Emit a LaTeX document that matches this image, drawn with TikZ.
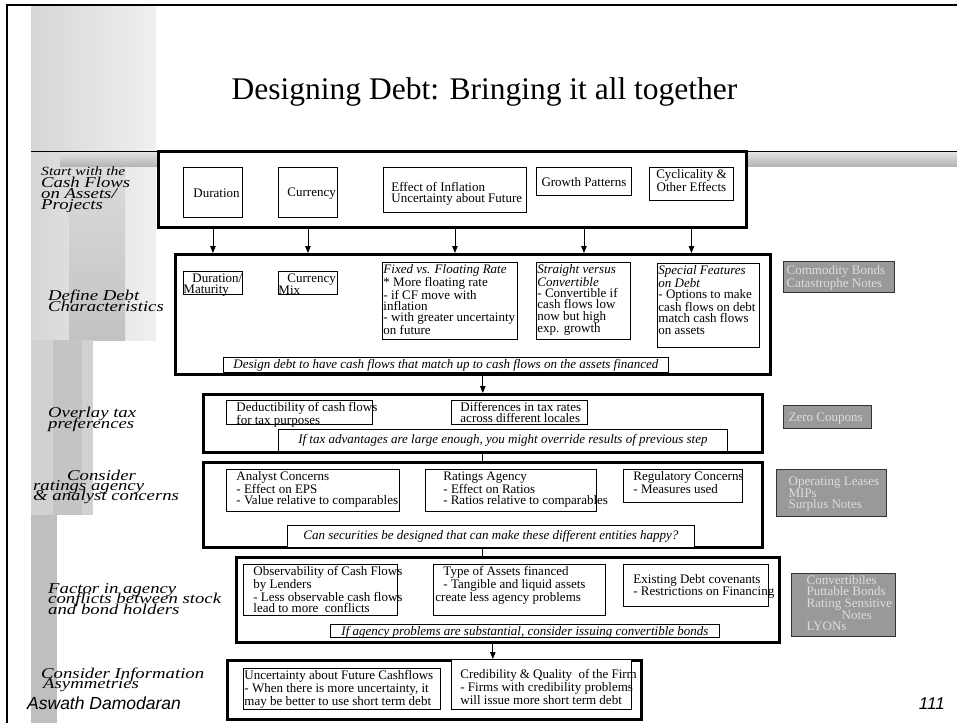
\documentclass[tikz,border=0pt]{standalone}
\usepackage{fontspec}
\setmainfont{Liberation Serif}
\newfontfamily\stepfont[FakeStretch=1.25]{Liberation Serif}
\newfontfamily\footfont{Liberation Sans}
\usetikzlibrary{arrows.meta,positioning}
\definecolor{altfill}{HTML}{999999}
\definecolor{alttext}{HTML}{DDDDDD}
\definecolor{altline}{HTML}{333333}
% fixed size text block inside a box
\newcommand{\cellbox}[4][t]{\begin{minipage}[c][#3][#1]{#2}\vspace*{2pt}\raggedright\rightskip=0pt plus 1fil minus 60pt #4\end{minipage}}
\tikzset{
  rowframe/.style={draw, line width=2.6pt, fill=white, inner sep=0pt, anchor=north west},
  cell/.style={draw, line width=0.9pt, fill=white, inner sep=0pt, anchor=north west,
    font={\lineskiplimit=-100pt\fontsize{13}{11.3}\selectfont}},
  note/.style={draw, line width=0.9pt, fill=white, inner sep=0pt, anchor=north west,
    font={\fontsize{13}{12}\selectfont\itshape}},
  alt/.style={draw=altline, line width=1.2pt, fill=altfill, text=alttext, inner sep=0pt, anchor=north west,
    font={\lineskiplimit=-100pt\fontsize{13}{11.3}\selectfont}},
  steplabel/.style={anchor=north west, inner sep=0pt, align=left,
    font={\lineskiplimit=-100pt\stepfont\itshape\fontsize{15}{#1}\selectfont}},
  steplabel/.default=11,
  flow/.style={line width=0.9pt, -{Triangle[length=7pt,width=5.5pt]}},
  link/.style={line width=0.9pt}
}
\begin{document}
\begin{tikzpicture}[x=1pt,y=-1pt]
  \useasboundingbox (0,0) rectangle (957,723);
  % slide decoration
  \shade[left color=gray!32, right color=gray!12] (31,6) rectangle (156,340);
  \shade[top color=gray!28, bottom color=gray!48] (69,167) rectangle (125,340);
  \fill[gray!36] (31,340) rectangle (93,515);
  \fill[gray!46] (53,340) rectangle (82,515);
  \fill[gray!50] (31,515) rectangle (57,723);
  \shade[top color=gray!22, bottom color=gray!58] (60,152) rectangle (957,166);
  \draw[line width=1pt] (31,151.5) -- (957,151.5);
  \draw[line width=2.2pt] (7,723) -- (7,5) -- (957,5);

  \node[font=\fontsize{31.5}{34}\selectfont, anchor=base] (title) at (484.5,99) {Designing Debt: Bringing it all together};

  %rows
  \node[rowframe, minimum width=588pt, minimum height=76pt] (row1) at (157,150) {};
  \node[rowframe, minimum width=595pt, minimum height=120pt] (row2) at (174,253) {};
  \node[rowframe, minimum width=559pt, minimum height=58pt] (row3) at (202,393) {};
  \node[rowframe, minimum width=559pt, minimum height=85pt] (row4) at (202,461) {};
  \node[rowframe, minimum width=543pt, minimum height=85pt] (row5) at (235,556) {};
  \node[rowframe, minimum width=414pt, minimum height=59pt] (row6) at (226,659) {};

  %cash flows on assets
  \node[cell] (dur) at (183,167) {\cellbox[c]{59pt}{50pt}{\hspace*{10pt}Duration}};
  \node[cell] (cur) at (278,167) {\cellbox[c]{59pt}{50pt}{\hspace*{9pt}Currency}};
  \node[cell] (infl) at (383,167) {\cellbox{143pt}{45pt}{\vspace*{13pt}\leftskip=8pt Effect of Inflation\\Uncertainty about Future}};
  \node[cell] (grow) at (536,167) {\cellbox[c]{95pt}{28pt}{\centering Growth Patterns}};
  \node[cell] (cyc) at (649,167) {\cellbox{84pt}{33pt}{\centering Cyclicality \&\\Other Effects}};

  %debt characteristics
  \node[cell] (durm) at (183,271) {\cellbox{59pt}{23pt}{\hspace*{9pt}Duration/\\Maturity}};
  \node[cell] (curm) at (278,271) {\cellbox{59pt}{23pt}{\hspace*{9pt}Currency\\Mix}};
  \node[cell] (rate) at (382,262) {\cellbox{135pt}{77pt}{\leftskip=1pt \textit{Fixed vs. Floating Rate}\\{}* More floating rate\\- if CF move with\\inflation\\- with greater uncertainty\\on future}};
  \node[cell] (conv) at (536,262) {\cellbox{94pt}{77pt}{\leftskip=1pt \textit{Straight versus}\\\textit{Convertible}\\- Convertible if\\cash flows low\\now but high\\exp. growth}};
  \node[cell] (feat) at (657,263) {\cellbox{102pt}{84pt}{\leftskip=1pt \textit{Special Features}\\\textit{on Debt}\\- Options to make\\cash flows on debt\\match cash flows\\on assets}};
  \node[note, minimum width=445pt, minimum height=15pt] (match) at (223,357) {Design debt to have cash flows that match up to cash flows on the assets financed};
  \node[alt] (hedge) at (783,261) {\cellbox[c]{111pt}{31pt}{\leftskip=3pt Commodity Bonds\\Catastrophe Notes}};

  %tax
  \node[cell] (deduct) at (226,400) {\cellbox{146pt}{24pt}{\leftskip=10pt Deductibility of cash flows\\for tax purposes}};
  \node[cell] (taxrate) at (451,400) {\cellbox{136pt}{24pt}{\leftskip=9pt Differences in tax rates\\across different locales}};
  \node[note, minimum width=449pt, minimum height=22pt] (override) at (278,429) {If tax advantages are large enough, you might override results of previous step};
  \node[alt] (zero) at (783,405) {\cellbox[c]{88pt}{23pt}{\leftskip=5pt Zero Coupons}};

  %ratings agency and analysts
  \node[cell] (analyst) at (226,469) {\cellbox{173pt}{42pt}{\leftskip=10pt Analyst Concerns\\- Effect on EPS\\- Value relative to comparables}};
  \node[cell] (agency) at (425,469) {\cellbox{171pt}{42pt}{\leftskip=18pt Ratings Agency\\- Effect on Ratios\\- Ratios relative to comparables}};
  \node[cell] (regul) at (623,469) {\cellbox{119pt}{33pt}{\leftskip=10pt Regulatory Concerns\\- Measures used}};
  \node[note, minimum width=407pt, minimum height=22pt] (happy) at (287,525) {Can securities be designed that can make these different entities happy?};
  \node[alt] (lease) at (776,469) {\cellbox[c]{110pt}{47pt}{\leftskip=12pt Operating Leases\\MIPs\\Surplus Notes}};

  %agency conflicts
  \node[cell] (observ) at (243,564) {\cellbox{154pt}{51pt}{\leftskip=10pt Observability of Cash Flows\\by Lenders\\- Less observable cash flows\\lead to more\ \ conflicts}};
  \node[cell] (assets) at (433,564) {\cellbox{172pt}{51pt}{\leftskip=10pt Type of Assets financed\\- Tangible and liquid assets\\\hspace*{-8pt}create less agency problems}};
  \node[cell] (covenant) at (623,564) {\cellbox[c]{145pt}{42pt}{\leftskip=10pt Existing Debt covenants\\- Restrictions on Financing}};
  \node[note, minimum width=389pt, minimum height=13pt, text height=9pt, text depth=0pt] (issue) at (330,624) {If agency problems are substantial, consider issuing convertible bonds};
  \node[alt] (hybrid) at (791,573) {\cellbox{104pt}{63pt}{\leftskip=15pt Convertibiles\\Puttable Bonds\\Rating Sensitive\\\hspace*{35pt}Notes\\LYONs}};

  %information asymmetries
  \node[cell] (uncert) at (243,668) {\cellbox{197pt}{41pt}{\leftskip=1pt Uncertainty about Future Cashflows\\- When there is more uncertainty, it\\may be better to use short term debt}};
  \node[cell] (cred) at (451,659) {\cellbox{180pt}{50pt}{\vspace*{8pt}\leftskip=9pt Credibility \& Quality\ \ of the Firm\\- Firms with credibility problems\\will issue more short term debt}};

  %connectors
  \foreach \c in {dur,cur,infl,grow,cyc}
    \draw[flow] (\c |- row1.south) -- (\c |- row2.north);
  \draw[flow] (row3.north |- row2.south) -- (row3.north);
  \draw[link] (row4.north |- row3.south) -- (row4.north);
  \draw[link] (row4.south) -- (row4.south |- row5.north);
  \draw[flow] ([xshift=10pt]row4.south |- row5.south) -- ([xshift=10pt]row4.south |- row6.north);

  %step labels
  \node[steplabel=11.2] (cashlab) at (41,167) {{\fontsize{12.5}{11.2}\selectfont Start with the}\\Cash Flows\\on Assets/\\Projects};
  \node[steplabel] (debtlab) at (48,290) {Define Debt\\Characteristics};
  \node[steplabel] (taxlab) at (48,407) {Overlay tax\\preferences};
  \node[steplabel=9.8] (ratelab) at (33,470) {\hspace*{34pt}Consider\\ratings agency\\\& analyst concerns};
  \node[steplabel=10.5] (agenlab) at (48,583) {Factor in agency\\conflicts between stock\\and bond holders};
  \node[steplabel=10.2] (infolab) at (41,668) {Consider Information\\\hspace*{2pt}Asymmetries};

  \node[font={\footfont\itshape\fontsize{17.5}{20}\selectfont}, anchor=base west, inner sep=0pt] (author) at (27,709) {Aswath Damodaran};
  \node[font={\footfont\itshape\fontsize{17}{20}\selectfont}, anchor=base east, inner sep=0pt] (page) at (945,709) {111};
\end{tikzpicture}
\end{document}
